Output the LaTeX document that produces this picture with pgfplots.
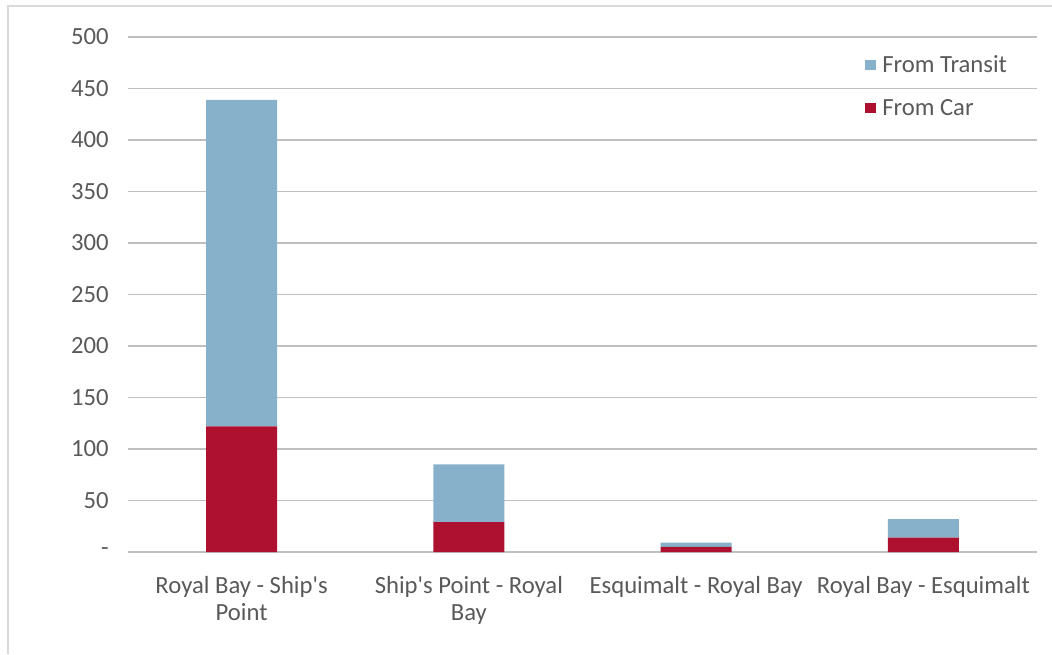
\documentclass[border=0pt]{standalone}
\usepackage{pgfplots}
\pgfplotsset{compat=1.18}
\usepackage{fontspec}
\setmainfont{Carlito}
\definecolor{transit}{RGB}{135,177,202}
\definecolor{car}{RGB}{174,16,48}
\definecolor{txt}{RGB}{89,89,89}
\definecolor{grid}{RGB}{217,217,217}
\begin{document}
\begin{tikzpicture}
\begin{axis}[
    at={(0,0)}, anchor=south west,
    scale only axis,
    width=681.75pt, height=386.25pt,
    ybar stacked,
    bar width=53.25pt,
    xmin=-0.5, xmax=3.5,
    ymin=0, ymax=500,
    xtick={0,1,2,3},
    xticklabels={Royal Bay - Ship\textquotesingle s\\Point, Ship\textquotesingle s Point - Royal\\Bay, Esquimalt - Royal Bay, Royal Bay - Esquimalt},
    ytick={0,50,...,500},
    yticklabels={-,50,100,150,200,250,300,350,400,450,500},
    axis line style={draw=none},
    major tick length=0pt,
    xmajorgrids=false,
    ymajorgrids,
    grid style={grid, line width=1.2pt},
    tick label style={font=\fontsize{18.5}{20.25}\selectfont, text=txt},
    xticklabel style={align=center, yshift=-15pt},
    yticklabel style={xshift=-11pt},
    legend style={at={(0.806,0.975)}, anchor=north west, draw=none, fill=none,
        font=\fontsize{18.5}{20}\selectfont, text=txt,
        row sep=14.5pt,
        nodes={inner xsep=5pt}},
    legend cell align=left,
    reverse legend,
    legend image code/.code={\fill[#1] (0pt,-4pt) rectangle (8pt,4pt);},
    clip=false,
]
\addplot[fill=car, draw=none] coordinates {(0,122) (1,29) (2,5) (3,14)};
\addlegendentry{From Car}
\addplot[fill=transit, draw=none] coordinates {(0,317) (1,56) (2,4) (3,18)};
\addlegendentry{From Transit}
\end{axis}
\path[use as bounding box] (-96pt,-76.5pt) rectangle (693pt,414pt);
\draw[grid, line width=1.2pt] (-90pt,-76.5pt) -- (-90pt,409.5pt) -- (693pt,409.5pt);
\end{tikzpicture}
\end{document}
